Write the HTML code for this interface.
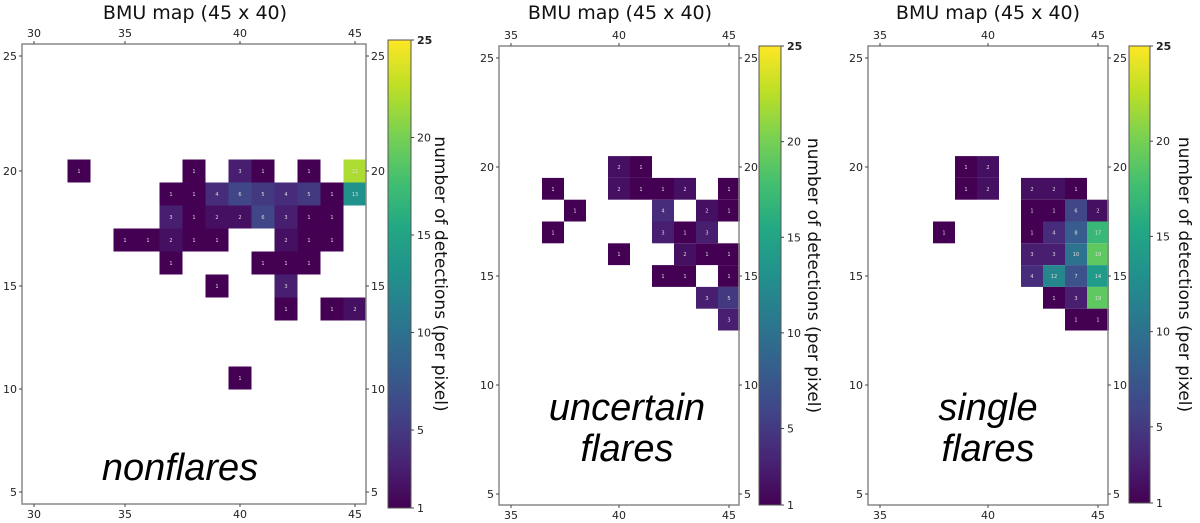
<!DOCTYPE html>
<html><head><meta charset="utf-8"><style>
html,body{margin:0;padding:0;background:#fff;width:1200px;height:523px;overflow:hidden}
svg{display:block;font-family:"DejaVu Sans","Liberation Sans",sans-serif}
</style></head><body>
<svg id="chart" width="1200" height="523" viewBox="0 0 1200 523"></svg>
<script>
// ---- data (x column, y row, count) ----
const p1X=[33,38,40,41,43,45, 37,38,39,40,41,42,43,44,45, 37,38,39,40,41,42,43,44, 35,36,37,38,39,42,43,44, 37,41,42,43, 39,42, 42,44,45, 40];
const p1Y=[20,20,20,20,20,20, 19,19,19,19,19,19,19,19,19, 18,18,18,18,18,18,18,18, 17,17,17,17,17,17,17,17, 16,16,16,16, 15,15, 14,14,14, 11];
const p1V=[1,1,3,1,1,22, 1,1,4,6,5,4,5,1,13, 3,1,2,2,6,3,1,1, 1,1,2,1,1,2,1,1, 1,1,1,1, 1,3, 1,1,2, 1];
const p2X=[40,41, 37,40,41,42,43,45, 38,42,44,45, 37,42,43,44, 40,43,44,45, 42,43,45, 44,45, 45];
const p2Y=[20,20, 19,19,19,19,19,19, 18,18,18,18, 17,17,17,17, 16,16,16,16, 15,15,15, 14,14, 13];
const p2V=[2,1, 1,2,1,1,2,1, 1,4,2,1, 1,3,1,3, 1,2,1,1, 1,1,1, 3,5, 3];
const p3X=[39,40, 39,40,42,43,44, 42,43,44,45, 38,42,43,44,45, 42,43,44,45, 42,43,44,45, 43,44,45, 44,45];
const p3Y=[20,20, 19,19,19,19,19, 18,18,18,18, 17,17,17,17,17, 16,16,16,16, 15,15,15,15, 14,14,14, 13,13];
const p3V=[1,2, 1,2,2,2,1, 1,1,6,2, 1,1,4,8,17, 3,3,10,19, 4,12,7,14, 1,3,19, 1,1];
const xTicks1=[30,35,40,45];
const xTicks23=[35,40,45];
const yTicks=[5,10,15,20,25];
const cbTicks=[1,5,10,15,20,25];
const titles=["BMU map (45 x 40)","BMU map (45 x 40)","BMU map (45 x 40)"];
const labels=[["nonflares"],["uncertain","flares"],["single","flares"]];

const NS="http://www.w3.org/2000/svg";
const svg=document.getElementById('chart');
function el(tag,attrs,parent){const e=document.createElementNS(NS,tag);for(const k in attrs)e.setAttribute(k,attrs[k]);(parent||svg).appendChild(e);return e;}
const vir=[[68,1,84],[72,36,117],[65,68,135],[53,95,141],[42,120,142],[33,145,140],[34,168,132],[68,191,112],[122,209,81],[189,223,38],[253,231,37]];
function viridis(t){t=Math.max(0,Math.min(1,t));const f=t*10,i=Math.min(9,Math.floor(f)),r=f-i;const a=vir[i],b=vir[i+1];return `rgb(${a.map((v,k)=>Math.round(v+(b[k]-v)*r)).join(',')})`;}
const vmin=1,vmax=25;

const panels=[
 {X:p1X,Y:p1Y,V:p1V,xt:xTicks1,L:22,R:366,T:44,B:504,x45:355,ux:23,y20:171,uy:23,lowUy:20.6,cbL:388,cbR:411,cbT:40,cbB:508,lab:435,tx:195,big:180,bigY:[480],name:'nonflares'},
 {X:p2X,Y:p2Y,V:p2V,xt:xTicks23,L:499,R:739,T:46,B:505,x45:729,ux:22,y20:167,uy:21.8,lowUy:21.8,cbL:759,cbR:781,cbT:46,cbB:505,lab:808,tx:620,big:627,bigY:[420,461],name:'uncertain-flares'},
 {X:p3X,Y:p3Y,V:p3V,xt:xTicks23,L:868,R:1108,T:46,B:505,x45:1098,ux:22,y20:167,uy:21.8,lowUy:21.8,cbL:1129,cbR:1150,cbT:46,cbB:503,lab:1179,tx:988,big:988,bigY:[420,461],name:'single-flares'}
];
panels.forEach((p,pi)=>{
 const g=el('g',{});
 
 
 const sx=v=>p.x45+(v-45)*p.ux, sy=v=>p.y20-(v-20)*p.uy;
 const tickY=v=>v>=15?sy(v):sy(15)+(15-v)*p.lowUy;
 const t=el('text',{x:p.tx,y:19,'text-anchor':'middle','font-size':19,fill:'#111'},g);t.textContent=titles[pi];
 
 
 for(let i=0;i<p.V.length;i++){
  const cx=sx(p.X[i]),cy=sy(p.Y[i]);
  const r=el('rect',{x:cx-p.ux/2,y:cy-p.uy/2,width:p.ux,height:p.uy,fill:viridis((p.V[i]-vmin)/(vmax-vmin))},g);
  
  
  const tx=el('text',{x:cx,y:cy+2,'text-anchor':'middle','font-size':5,fill:'#ddd'},g);tx.textContent=p.V[i];
  
  
 }
 const fr=el('rect',{x:p.L,y:p.T,width:p.R-p.L,height:p.B-p.T,fill:'none',stroke:'#888','stroke-width':1.5},g);
 
 
 p.xt.forEach(v=>{
  let x=Math.max(sx(v),p.L+12);
  el('line',{x1:x,x2:x,y1:p.T,y2:p.T-3,stroke:'#444'},g);
  el('line',{x1:x,x2:x,y1:p.B,y2:p.B+3,stroke:'#444'},g);
  const a=el('text',{x:x,y:p.T-7,'text-anchor':'middle','font-size':11,fill:'#222'},g);a.textContent=v;
  
  
  const b=el('text',{x:x,y:p.B+14,'text-anchor':'middle','font-size':11,fill:'#222'},g);b.textContent=v;
  
  
 });
 yTicks.forEach(v=>{
  const y=tickY(v);
  el('line',{x1:p.L,x2:p.L-3,y1:y,y2:y,stroke:'#444'},g);
  el('line',{x1:p.R,x2:p.R+3,y1:y,y2:y,stroke:'#444'},g);
  const a=el('text',{x:p.L-5,y:y+4,'text-anchor':'end','font-size':11,fill:'#222'},g);a.textContent=v;
  
  
  const b=el('text',{x:p.R+5,y:y+4,'text-anchor':'start','font-size':11,fill:'#222'},g);b.textContent=v;
  
  
 });
 p.bigY.forEach((yy,k)=>{
  const b=el('text',{x:p.big,y:yy,'text-anchor':'middle','font-size':38,'font-style':'italic',fill:'#000','font-family':'Liberation Sans, sans-serif'},g);
  b.textContent=labels[pi][k];
  
  
 });
 const gid='grad'+pi;
 const lg=el('linearGradient',{id:gid,x1:0,y1:1,x2:0,y2:0},el('defs',{},g));
 for(let k=0;k<=10;k++)el('stop',{offset:k/10,'stop-color':viridis(k/10)},lg);
 const cb=el('rect',{x:p.cbL,y:p.cbT,width:p.cbR-p.cbL,height:p.cbB-p.cbT,fill:`url(#${gid})`,stroke:'#555','stroke-width':1},g);
 
 
 const cs=v=>p.cbB-(v-vmin)/(vmax-vmin)*(p.cbB-p.cbT);
 cbTicks.forEach(v=>{
  const y=cs(v);
  el('line',{x1:p.cbR,x2:p.cbR+3,y1:y,y2:y,stroke:'#444'},g);
  const a=el('text',{x:p.cbR+6,y:y+4,'font-size':11,fill:'#222','font-weight':v===25?'bold':'normal'},g);a.textContent=v;
  
  
 });
 const cl=el('text',{x:p.lab,y:(p.cbT+p.cbB)/2,'text-anchor':'middle','font-size':17,fill:'#111',transform:`rotate(90 ${p.lab} ${(p.cbT+p.cbB)/2})`},g);
 cl.textContent='number of detections (per pixel)';
 
 
});
</script>
</body></html>
